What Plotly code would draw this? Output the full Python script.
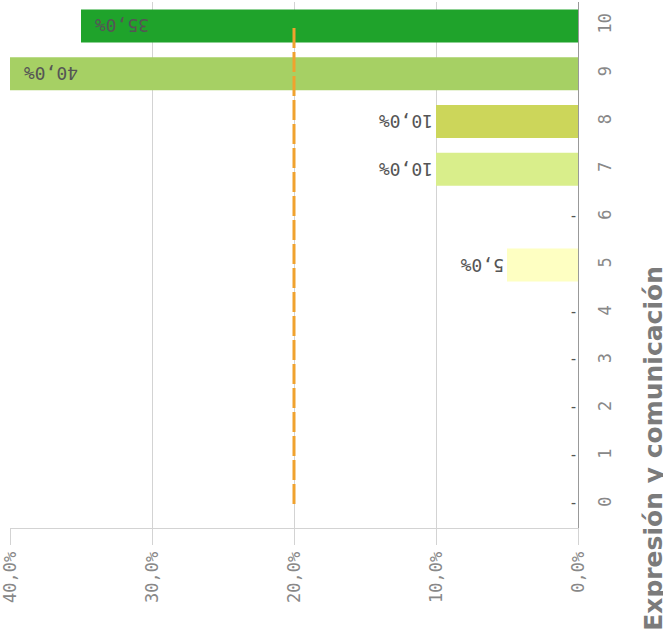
import plotly.graph_objects as go

categories = ["0", "1", "2", "3", "4", "5", "6", "7", "8", "9", "10"]
values = [0.0, 0.0, 0.0, 0.0, 0.0, 0.05, 0.0, 0.10, 0.10, 0.40, 0.35]
bar_colors = ["#ffffff", "#ffffff", "#ffffff", "#ffffff", "#ffffff", "#feffc2",
              "#ffffff", "#d9ee8b", "#ccd65a", "#a6d064", "#1fa32b"]
label_pos = ["outside", "outside", "outside", "outside", "outside", "outside",
             "outside", "outside", "outside", "inside", "inside"]
mean_value = 0.20
x_ticks = [0.0, 0.1, 0.2, 0.3, 0.4]
axis_title = "Expresión y comunicación"

labels = ["" if v == 0 else f"{v*100:.1f}%".replace(".", ",") for v in values]
zero_cats = [c for c, v in zip(categories, values) if v == 0]
zero_vals = [v for v in values if v == 0]

mono = "DejaVu Sans Mono"

fig = go.Figure()
fig.add_trace(go.Bar(
    x=values, y=categories, orientation="h",
    marker=dict(color=bar_colors, line=dict(width=0)),
    text=[(t + " ") if p == "inside" else t for t, p in zip(labels, label_pos)],
    textposition=label_pos, textangle=180,
    insidetextanchor="end",
    textfont=dict(family=mono, size=18, color="#555555"),
    cliponaxis=False,
))
fig.add_trace(go.Scatter(
    x=zero_vals, y=zero_cats, mode="text", text=["-"] * len(zero_cats),
    textposition="middle left",
    textfont=dict(family=mono, size=15, color="#555555"),
    hoverinfo="skip",
))

fig.add_shape(type="line", xref="x", yref="y",
              x0=mean_value, x1=mean_value, y0=0, y1=10,
              line=dict(color="#f0a22e", width=3, dash="20px,4px"))

fig.add_annotation(text=f"<b>{axis_title}</b>", xref="paper", yref="paper",
                   x=1.134, y=-0.2, xanchor="center", yanchor="bottom",
                   textangle=-90, showarrow=False,
                   font=dict(family="DejaVu Sans", size=25, color="#7b7b7b"))

fig.update_layout(
    width=663, height=632,
    margin=dict(l=10, r=85, t=2, b=104),
    plot_bgcolor="white", paper_bgcolor="white",
    separators=",.",
    showlegend=False,
    bargap=0.31,
)
fig.update_xaxes(
    range=[0.4, 0.0], tickvals=x_ticks, tickformat=".1%",
    tickangle=-90, showgrid=True, gridcolor="#d3d3d3", gridwidth=1,
    ticks="outside", ticklen=16, tickcolor="#d3d3d3",
    showline=True, linecolor="#d3d3d3", zeroline=False, automargin=False,
    ticklabeloverflow="allow",
    tickfont=dict(family=mono, size=17, color="#888888"),
)
fig.update_yaxes(
    categoryorder="array", categoryarray=categories,
    side="right", range=[-0.5, 10.5], tickangle=-90,
    showgrid=False, showline=True, linecolor="#999999", linewidth=1,
    ticks="", ticklabelstandoff=12, automargin=False,
    ticklabeloverflow="allow",
    tickfont=dict(family=mono, size=17, color="#888888"),
)

fig.write_html("out.html", config={"displayModeBar": False},
               post_script="document.body.style.margin='0';document.body.style.overflow='hidden';")
